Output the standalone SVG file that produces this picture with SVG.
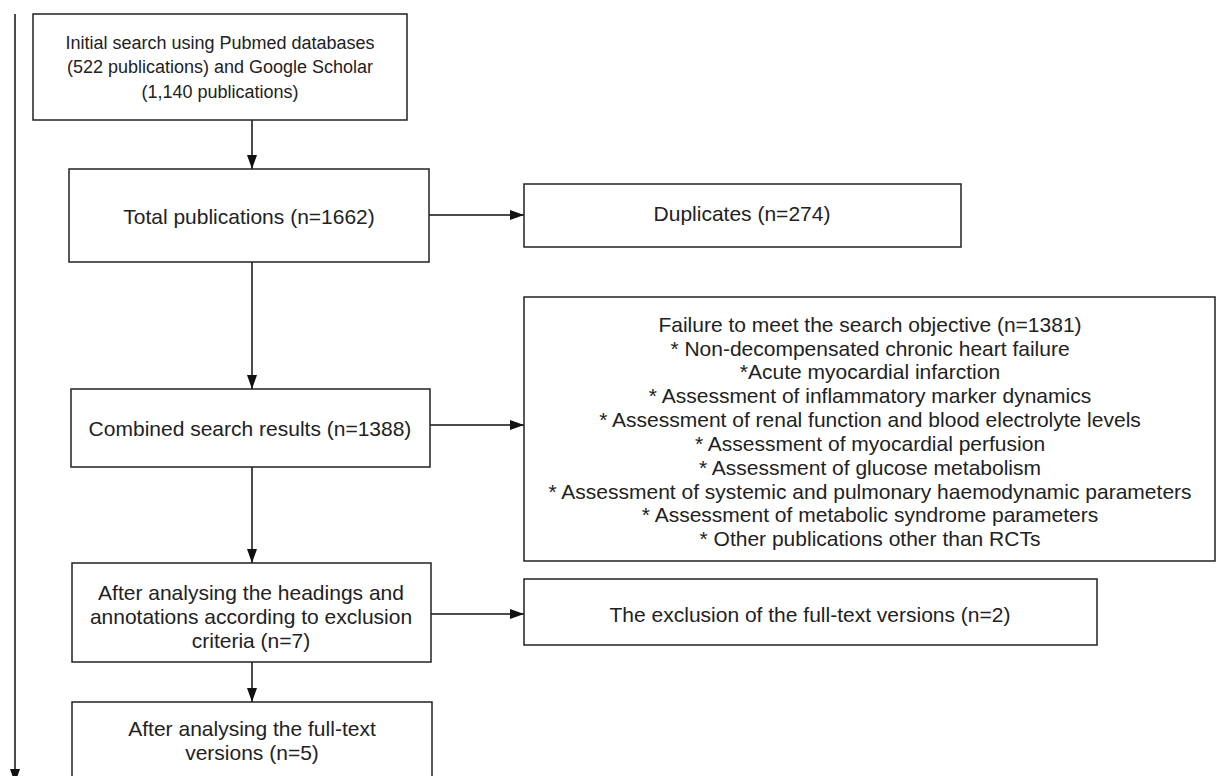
<svg xmlns="http://www.w3.org/2000/svg" width="1217" height="776" viewBox="0 0 1217 776">
<defs>
<style>
.box{fill:#fff;stroke:#222;stroke-width:1.5}
.ln{stroke:#111;stroke-width:1.5;fill:none}
text{font-family:"Liberation Sans",Arial,sans-serif;font-size:21px;fill:#222;text-anchor:middle;dominant-baseline:central}
.sm{font-size:18px}
</style>
<marker id="ah" viewBox="0 0 14 10" refX="14" refY="5" markerWidth="14" markerHeight="10" markerUnits="userSpaceOnUse" orient="auto">
<path d="M0,0 L14,5 L0,10 Z" fill="#111"/>
</marker>
</defs>
<rect width="1217" height="776" fill="#fff"/>
<g id="connectors">
<line class="ln" x1="15" y1="14" x2="15" y2="770"/>
<polygon points="10,769 20,769 15,783" fill="#111"/>
<line class="ln" x1="252" y1="120" x2="252" y2="169" marker-end="url(#ah)"/>
<line class="ln" x1="429" y1="215" x2="524" y2="215" marker-end="url(#ah)"/>
<line class="ln" x1="252" y1="262" x2="252" y2="389" marker-end="url(#ah)"/>
<line class="ln" x1="430" y1="425" x2="524" y2="425" marker-end="url(#ah)"/>
<line class="ln" x1="252" y1="467" x2="252" y2="563" marker-end="url(#ah)"/>
<line class="ln" x1="431" y1="614" x2="524" y2="614" marker-end="url(#ah)"/>
<line class="ln" x1="252" y1="662" x2="252" y2="702" marker-end="url(#ah)"/>
</g>
<g id="n1">
<rect class="box" x="33" y="14" width="374" height="106"/>
<text class="sm" x="220" y="43">Initial search using Pubmed databases</text>
<text class="sm" x="220" y="67">(522 publications) and Google Scholar</text>
<text class="sm" x="220" y="92">(1,140 publications)</text>
</g>
<g id="n2">
<rect class="box" x="69" y="169" width="360" height="93"/>
<text x="249" y="216">Total publications (n=1662)</text>
</g>
<g id="n3">
<rect class="box" x="524" y="184" width="437" height="63"/>
<text x="742" y="213">Duplicates (n=274)</text>
</g>
<g id="n4">
<rect class="box" x="71" y="389" width="359" height="78"/>
<text x="250" y="428">Combined search results (n=1388)</text>
</g>
<g id="n5">
<rect class="box" x="524" y="297" width="691" height="264"/>
<text x="870" y="324">Failure to meet the search objective (n=1381)</text>
<text x="870" y="348">* Non-decompensated chronic heart failure</text>
<text x="870" y="371">*Acute myocardial infarction</text>
<text x="870" y="395">* Assessment of inflammatory marker dynamics</text>
<text x="870" y="419">* Assessment of renal function and blood electrolyte levels</text>
<text x="870" y="443">* Assessment of myocardial perfusion</text>
<text x="870" y="467">* Assessment of glucose metabolism</text>
<text x="870" y="491">* Assessment of systemic and pulmonary haemodynamic parameters</text>
<text x="870" y="514">* Assessment of metabolic syndrome parameters</text>
<text x="870" y="538">* Other publications other than RCTs</text>
</g>
<g id="n6">
<rect class="box" x="72" y="563" width="359" height="99"/>
<text x="251" y="592">After analysing the headings and</text>
<text x="251" y="616">annotations according to exclusion</text>
<text x="251" y="640">criteria (n=7)</text>
</g>
<g id="n7">
<rect class="box" x="524" y="579" width="573" height="66"/>
<text x="810" y="614">The exclusion of the full-text versions (n=2)</text>
</g>
<g id="n8">
<rect class="box" x="72" y="702" width="360" height="90"/>
<text x="252" y="728">After analysing the full-text</text>
<text x="252" y="752">versions (n=5)</text>
</g>
</svg>
